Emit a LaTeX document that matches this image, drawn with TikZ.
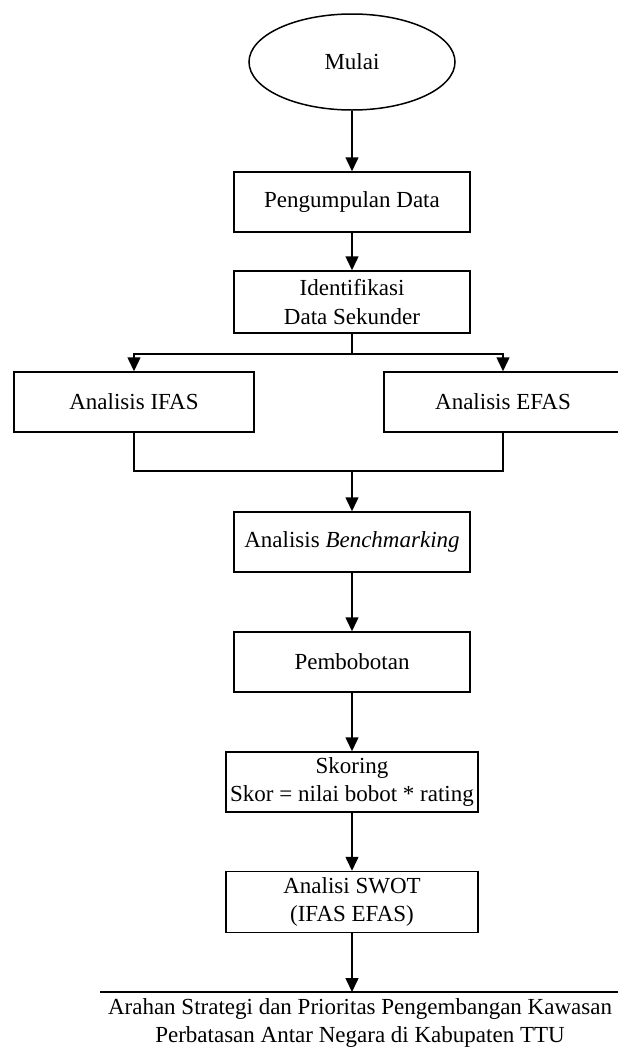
\documentclass[tikz,border=0pt]{standalone}
\usepackage{fontspec}
\setmainfont{Liberation Serif}
\usetikzlibrary{shapes.geometric,arrows.meta}
\begin{document}
\begin{tikzpicture}[x=1pt,y=-1pt,
  every node/.style={font=\fontsize{23}{28.5}\selectfont, align=center, inner sep=0pt},
  box/.style={draw, line width=1.5pt, rectangle},
  arr/.style={line width=1.5pt, -{Triangle[width=13pt,length=14pt]}},
  ln/.style={line width=1.5pt}]
\useasboundingbox (0,0) rectangle (618,1050);
\clip (0,0) rectangle (618,1050);
\node[draw, line width=1.5pt, ellipse, minimum width=206pt, minimum height=96pt] (mulai) at (352,62) {Mulai};
\node[box, minimum width=236pt, minimum height=60pt] (kumpul) at (352,202) {Pengumpulan Data};
\node[box, minimum width=236pt, minimum height=62pt] (ident) at (352,302) {Identifikasi\\Data Sekunder};
\node[box, minimum width=240pt, minimum height=60pt] (ifas) at (134,402) {Analisis IFAS};
\node[box, minimum width=238pt, minimum height=60pt] (efas) at (503,402) {Analisis EFAS};
\node[box, minimum width=236pt, minimum height=60pt] (bench) at (352,542) {Analisis \textit{Benchmarking}};
\node[box, minimum width=236pt, minimum height=60pt] (bobot) at (352,662) {Pembobotan};
\node[box, minimum width=252pt, minimum height=60pt] (skor) at (352,782) {Skoring\\Skor = nilai bobot * rating};
\node[box, minimum width=252pt, minimum height=61pt] (swot) at (352,902) {Analisi SWOT\\(IFAS EFAS)};
\node[anchor=north, minimum width=520pt, inner ysep=6pt, font=\fontsize{23}{28.5}\selectfont] (arahan) at (360,992) {Arahan Strategi dan Prioritas Pengembangan Kawasan\\Perbatasan Antar Negara di Kabupaten TTU};
\draw[ln] (arahan.north west) -- (arahan.north east);
\coordinate (split) at (352,354);
\coordinate (join) at (352,471);
\draw[arr] (mulai.south) -- (kumpul.north);
\draw[arr] (kumpul.south) -- (ident.north);
\draw[ln] (ident.south) -- (split);
\draw[arr] (split) -| (ifas.north);
\draw[arr] (split) -| (efas.north);
\draw[ln] (ifas.south) |- (join);
\draw[ln] (efas.south) |- (join);
\draw[arr] (join) -- (bench.north);
\draw[arr] (bench.south) -- (bobot.north);
\draw[arr] (bobot.south) -- (skor.north);
\draw[arr] (skor.south) -- (swot.north);
\draw[arr] (swot.south) -- (swot.south |- arahan.north);
\end{tikzpicture}
\end{document}
